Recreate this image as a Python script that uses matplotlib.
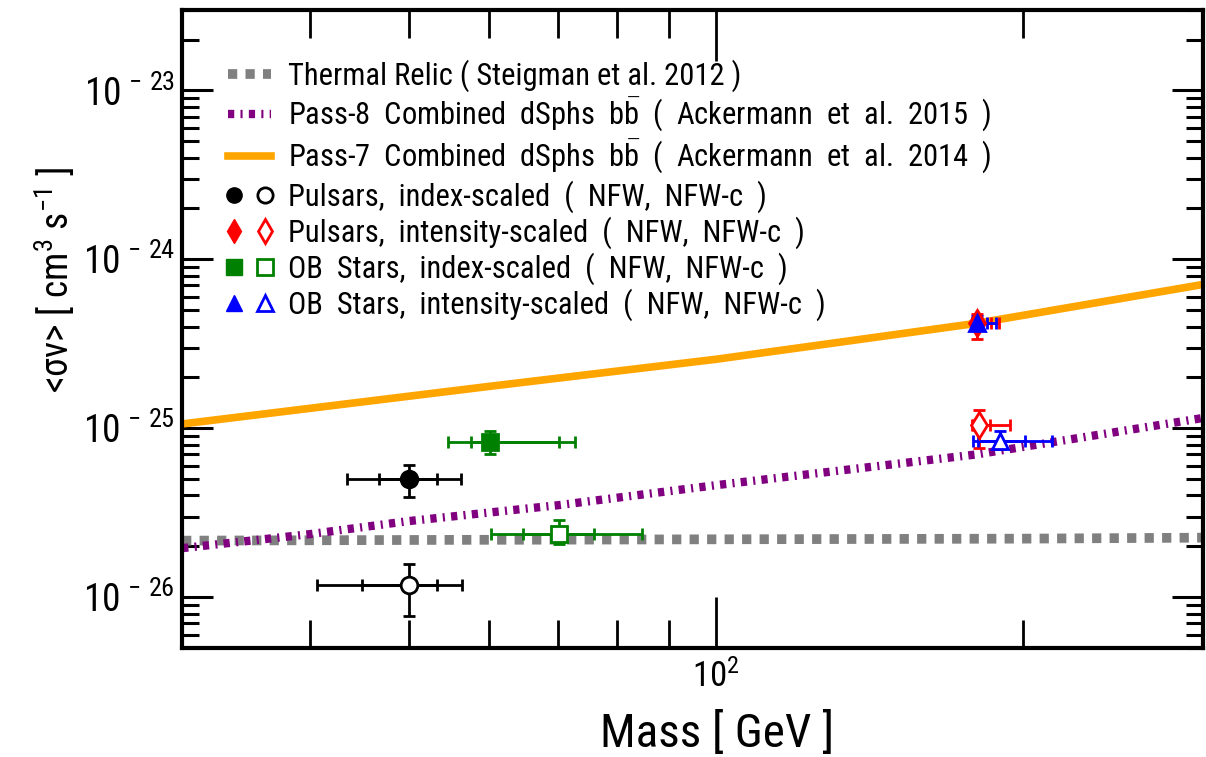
import numpy as np
import matplotlib
matplotlib.use("Agg")
import matplotlib.pyplot as plt
from matplotlib import font_manager
from matplotlib.legend_handler import HandlerTuple
from matplotlib.lines import Line2D
from matplotlib.ticker import FixedLocator, NullFormatter, FuncFormatter

# ---- data ----
relic_mass = [30, 50, 100, 200, 300]
relic_sv = [2.16e-26, 2.18e-26, 2.2e-26, 2.22e-26, 2.25e-26]

pass8_mass = [30, 40, 50, 70, 100, 180, 300]
pass8_sv = [1.95e-26, 2.36e-26, 2.82e-26, 3.5e-26, 4.6e-26, 7.0e-26, 1.15e-25]

pass7_mass = [30, 60, 100, 180, 300]
pass7_sv = [1.06e-25, 1.77e-25, 2.56e-25, 4.18e-25, 7.1e-25]

# each point: mass, sv, sv_lo, sv_hi, inner (lo, hi) mass, outer (lo, hi) mass
psr_index_nfw = [50.1, 5.0e-26, 3.9e-26, 6.05e-26, (46.8, 53.3), (43.5, 56.3)]
psr_index_nfwc = [50.1, 1.18e-26, 7.7e-27, 1.57e-26, (45.0, 53.3), (40.7, 56.4)]
psr_int_nfw = [180.0, 4.2e-25, 3.37e-25, 4.75e-25, (179.0, 186.0), (178.0, 189.5)]
psr_int_nfwc = [181.0, 1.05e-25, 7.6e-26, 1.29e-25, (178.5, 185.7), (178.3, 194.3)]
ob_index_nfw = [60.1, 8.3e-26, 7.0e-26, 9.6e-26, (57.5, 70.2), (54.6, 72.8)]
ob_index_nfwc = [70.2, 2.36e-26, 2.07e-26, 2.86e-26, (64.7, 75.9), (60.2, 84.7)]
ob_int_nfw = [180.0, 4.2e-25, 3.8e-25, 4.6e-25, (179.0, 184.5), (178.0, 188.0)]
ob_int_nfwc = [190.0, 8.4e-26, 7.5e-26, 9.6e-26, (180.7, 200.8), (178.7, 213.4)]

y_major = [1e-26, 1e-25, 1e-24, 1e-23]
x_major = [100]
x_minor = [40, 50, 60, 70, 80, 90, 200]

labels = [
    "Thermal Relic ( Steigman et al. 2012 )",
    r"Pass-8  Combined  dSphs  b$\bar{\rm b}$  (  Ackermann  et  al.  2015  )",
    r"Pass-7  Combined  dSphs  b$\bar{\rm b}$  (  Ackermann  et  al.  2014  )",
    "Pulsars,  index-scaled  (  NFW,  NFW-c  )",
    "Pulsars,  intensity-scaled  (  NFW,  NFW-c  )",
    "OB  Stars,  index-scaled  (  NFW,  NFW-c  )",
    "OB  Stars,  intensity-scaled  (  NFW,  NFW-c  )",
]

# ---- font ----
names = {f.name for f in font_manager.fontManager.ttflist}
font = "DejaVu Sans"
for cand in ["Roboto Condensed", "Liberation Sans Narrow", "Liberation Sans"]:
    if cand in names:
        font = cand
        break
plt.rcParams["font.family"] = [font, "DejaVu Sans"]
plt.rcParams["mathtext.fontset"] = "custom"
plt.rcParams["mathtext.rm"] = font
plt.rcParams["mathtext.it"] = font
plt.rcParams["mathtext.bf"] = font

fig = plt.figure(figsize=(12.06, 7.57), dpi=100)
ax = fig.add_axes([0.151, 0.144, 0.8465, 0.843])

l_relic, = ax.plot(relic_mass, relic_sv, color="grey", lw=7, dash_capstyle="butt", zorder=2)
l_relic.set_dashes([0.95, 0.85])
l_p8, = ax.plot(pass8_mass, pass8_sv, color="purple", lw=6, dash_capstyle="butt", zorder=2)
l_p8.set_dashes([0.75, 0.75, 0.25, 0.75])
l_p7, = ax.plot(pass7_mass, pass7_sv, color="orange", lw=5.5, zorder=2)


def draw_point(p, color, marker, filled, ms):
    m, y, ylo, yhi, inner, outer = p
    face = color if filled else "white"
    ax.errorbar([m], [y], xerr=[[m - outer[0]], [outer[1] - m]], yerr=[[y - ylo], [yhi - y]],
                fmt="none", ecolor=color, elinewidth=2, capsize=4, capthick=2, zorder=3)
    ax.errorbar([m], [y], xerr=[[m - inner[0]], [inner[1] - m]],
                fmt="none", ecolor=color, elinewidth=2, capsize=4, capthick=2, zorder=3)
    ax.plot([m], [y], marker=marker, ms=ms, mfc=face, mec=color, mew=2, ls="none", zorder=4)


draw_point(psr_index_nfw, "black", "o", True, 12)
draw_point(psr_index_nfwc, "black", "o", False, 12)
draw_point(psr_int_nfw, "red", "d", True, 13)
draw_point(psr_int_nfwc, "red", "d", False, 13)
draw_point(ob_index_nfw, "green", "s", True, 12)
draw_point(ob_index_nfwc, "green", "s", False, 12)
draw_point(ob_int_nfw, "blue", "^", True, 12)
draw_point(ob_int_nfwc, "blue", "^", False, 12)

ax.set_xscale("log")
ax.set_yscale("log")
ax.set_xlim(30, 300)
ax.set_ylim(5e-27, 3e-23)

y_minor = [k * d for d in [1e-27] + y_major for k in range(2, 10) if 5e-27 <= k * d <= 3e-23]

ax.xaxis.set_major_locator(FixedLocator(x_major))
ax.xaxis.set_minor_locator(FixedLocator(x_minor))
ax.xaxis.set_major_formatter(FuncFormatter(lambda v, pos: r"$10^{%d}$" % round(np.log10(v))))
ax.xaxis.set_minor_formatter(NullFormatter())
ax.yaxis.set_major_locator(FixedLocator(y_major))
ax.yaxis.set_minor_locator(FixedLocator(y_minor))
ax.yaxis.set_major_formatter(FuncFormatter(lambda v, pos: r"$10^{\,-\,%d}$" % round(-np.log10(v))))
ax.yaxis.set_minor_formatter(NullFormatter())

ax.tick_params(axis="x", which="both", direction="in", top=True, bottom=True, width=2,
               labelsize=25, pad=8)
ax.tick_params(axis="x", which="major", length=37)
ax.tick_params(axis="x", which="minor", length=20)
ax.tick_params(axis="y", which="both", direction="in", left=True, right=True, width=2.2,
               labelsize=27, pad=5)
ax.tick_params(axis="y", which="major", length=22)
ax.tick_params(axis="y", which="minor", length=12)
for s in ax.spines.values():
    s.set_linewidth(3)

ax.set_xlabel("Mass [ GeV ]", fontsize=34)
ax.xaxis.set_label_coords(0.524, -0.098)
fig.text(55 / 1206, 1 - 280 / 757, r"<$\sigma$v> [ cm$^3$ s$^{-1}$ ]", fontsize=27,
         rotation=90, ha="center", va="center")

h_pi = (Line2D([], [], marker="o", color="black", ls="none", ms=11),
        Line2D([], [], marker="o", mfc="white", mec="black", mew=2, ls="none", ms=11))
h_pn = (Line2D([], [], marker="d", color="red", ls="none", ms=12),
        Line2D([], [], marker="d", mfc="white", mec="red", mew=2, ls="none", ms=12))
h_oi = (Line2D([], [], marker="s", color="green", ls="none", ms=11),
        Line2D([], [], marker="s", mfc="white", mec="green", mew=2, ls="none", ms=11))
h_on = (Line2D([], [], marker="^", color="blue", ls="none", ms=11),
        Line2D([], [], marker="^", mfc="white", mec="blue", mew=2, ls="none", ms=11))

leg = ax.legend([l_relic, l_p8, l_p7, h_pi, h_pn, h_oi, h_on], labels,
                handler_map={tuple: HandlerTuple(ndivide=None, pad=0.6)},
                loc="upper left", bbox_to_anchor=(0.018, 0.965), frameon=False,
                fontsize=22, handlelength=1.4, handletextpad=0.55, labelspacing=0.12)

fig.savefig("out.png", dpi=100)
